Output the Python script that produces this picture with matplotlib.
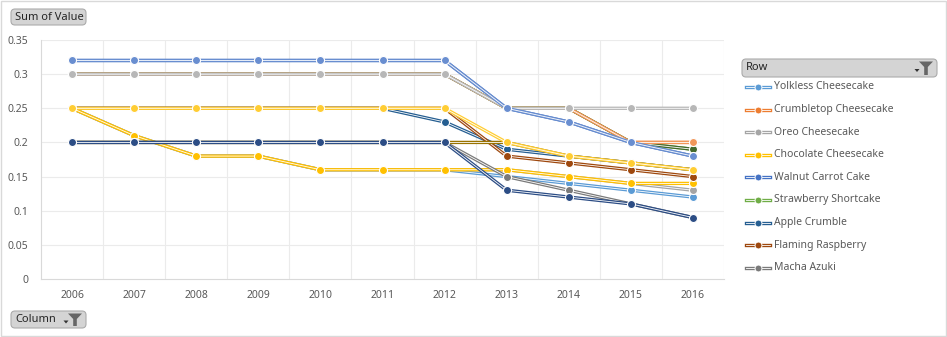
import matplotlib
matplotlib.use("Agg")
import matplotlib.pyplot as plt
from matplotlib.patches import FancyBboxPatch, Rectangle, Polygon
from matplotlib.lines import Line2D
from matplotlib.transforms import IdentityTransform

plt.rcParams['font.family'] = ['Noto Sans', 'DejaVu Sans']

W, H = 947, 337

# data
years = ['2006', '2007', '2008', '2009', '2010', '2011', '2012', '2013', '2014', '2015', '2016']

names = ['Yolkless Cheesecake', 'Crumbletop Cheesecake', 'Oreo Cheesecake',
         'Chocolate Cheesecake', 'Walnut Carrot Cake', 'Strawberry Shortcake',
         'Apple Crumble', 'Flaming Raspberry', 'Macha Azuki']

yolkless = [0.25, 0.21, 0.18, 0.18, 0.16, 0.16, 0.16, 0.15, 0.14, 0.13, 0.12]
crumbletop = [0.30, 0.30, 0.30, 0.30, 0.30, 0.30, 0.30, 0.25, 0.25, 0.20, 0.20]
oreo = [0.25, 0.21, 0.18, 0.18, 0.16, 0.16, 0.16, 0.16, 0.15, 0.14, 0.13]
chocolate = [0.25, 0.21, 0.18, 0.18, 0.16, 0.16, 0.16, 0.16, 0.15, 0.14, 0.14]
walnut = [0.32, 0.32, 0.32, 0.32, 0.32, 0.32, 0.32, 0.25, 0.23, 0.20, 0.18]
strawberry = [0.30, 0.30, 0.30, 0.30, 0.30, 0.30, 0.30, 0.25, 0.25, 0.20, 0.19]
apple = [0.25, 0.25, 0.25, 0.25, 0.25, 0.25, 0.23, 0.19, 0.18, 0.17, 0.16]
flaming = [0.25, 0.25, 0.25, 0.25, 0.25, 0.25, 0.25, 0.18, 0.17, 0.16, 0.15]
macha = [0.20, 0.20, 0.20, 0.20, 0.20, 0.20, 0.20, 0.15, 0.13, 0.11, 0.09]

# rows that do not fit in the legend
extra_a = [0.20, 0.20, 0.20, 0.20, 0.20, 0.20, 0.20, 0.20, 0.18, 0.17, 0.16]
extra_b = [0.20, 0.20, 0.20, 0.20, 0.20, 0.20, 0.20, 0.13, 0.12, 0.11, 0.09]
extra_c = [0.30, 0.30, 0.30, 0.30, 0.30, 0.30, 0.30, 0.25, 0.25, 0.20, 0.19]
extra_d = [0.30, 0.30, 0.30, 0.30, 0.30, 0.30, 0.30, 0.25, 0.25, 0.20, 0.20]
extra_e = [0.30, 0.30, 0.30, 0.30, 0.30, 0.30, 0.30, 0.25, 0.25, 0.25, 0.25]
extra_f = [0.25, 0.25, 0.25, 0.25, 0.25, 0.25, 0.25, 0.20, 0.18, 0.17, 0.16]
extra_g = [0.32, 0.32, 0.32, 0.32, 0.32, 0.32, 0.32, 0.25, 0.23, 0.20, 0.18]

series = [yolkless, crumbletop, oreo, chocolate, walnut, strawberry, apple, flaming, macha,
          extra_a, extra_b, extra_c, extra_d, extra_e, extra_f, extra_g]
colors = ['#5B9BD5', '#ED7D31', '#A5A5A5', '#FFC000', '#4472C4', '#70AD47', '#255E91',
          '#9E480E', '#7A7A7A', '#997300', '#2C4D85', '#43682B', '#F1975A', '#B7B7B7',
          '#FFCD33', '#698ED0']

fig = plt.figure(figsize=(W / 100, H / 100), dpi=100)
px = IdentityTransform()   # pixel coords, y from the bottom


def fx(p):
    return p / W


def fy(p):
    return 1 - p / H


# chart frame
fig.add_artist(Rectangle((0.5, 1.5), 945, 335, transform=px,
                         fill=False, edgecolor='#D9D9D9', lw=1))

ax = fig.add_axes([fx(41), fy(279), fx(724) - fx(41), (279 - 40) / H])
x = list(range(len(years)))

for i, (vals, c) in enumerate(zip(series, colors)):
    z = 3 + i * 3
    ax.plot(x, vals, color=c, lw=2.4, zorder=z, solid_joinstyle='round')
    ax.plot(x, vals, color='white', lw=0.6, zorder=z + 0.5)
    ax.plot(x, vals, 'o', ms=5.8, mfc=c, mec='white', mew=0.8, zorder=z + 1)

ax.set_xlim(-0.5, len(years) - 0.5)
ax.set_ylim(0, 0.35)
ax.set_xticks(x)
ax.set_xticklabels(years)
ax.set_yticks([0, 0.05, 0.1, 0.15, 0.2, 0.25, 0.3, 0.35])
ax.set_yticklabels(['0', '0.05', '0.1', '0.15', '0.2', '0.25', '0.3', '0.35'])
ax.tick_params(length=0, labelsize=7.5, colors='#595959')
ax.tick_params(axis='y', pad=9)
ax.tick_params(axis='x', pad=8)
for yv in [0.05, 0.1, 0.15, 0.2, 0.25, 0.3, 0.35]:
    ax.axhline(yv, color='#EBEBEB', lw=0.8, zorder=1)
for xv in range(len(years)):
    ax.axvline(xv + 0.5, color='#EBEBEB', lw=0.8, zorder=1)
for s in ['top', 'right']:
    ax.spines[s].set_visible(False)
ax.spines['left'].set_color('#D9D9D9')
ax.spines['bottom'].set_color('#D9D9D9')


def button(x0, y0, x1, y1, text, funnel=False):
    fig.add_artist(FancyBboxPatch((x0, H - y1), x1 - x0, y1 - y0,
                                  boxstyle='round,pad=0,rounding_size=4',
                                  transform=px, facecolor='#D4D4D4',
                                  edgecolor='#ABABAB', lw=0.8))
    fig.text(fx(x0 + 4), fy((y0 + y1) / 2), text, fontsize=8, color='#262626',
             va='center', ha='left')
    if funnel:
        cx = x1 - 11
        pts = [(cx - 7, y0 + 2.5), (cx + 7, y0 + 2.5), (cx + 1.8, y0 + 8),
               (cx + 1.8, y1 - 2), (cx - 1.8, y1 - 2), (cx - 1.8, y0 + 8)]
        fig.add_artist(Polygon([(a, H - b) for a, b in pts], closed=True,
                               transform=px, facecolor='#666666', edgecolor='none'))
        tx = cx - 9
        ty = (y0 + y1) / 2 + 2
        tri = [(tx - 2.5, ty - 1), (tx + 2.5, ty - 1), (tx, ty + 2)]
        fig.add_artist(Polygon([(a, H - b) for a, b in tri], closed=True,
                               transform=px, facecolor='#333333', edgecolor='none'))


button(11, 9, 86, 25, 'Sum of Value')
button(11, 311, 86, 328, 'Column', funnel=True)
button(742, 59, 937, 77, 'Row', funnel=True)

# legend
for i, name in enumerate(names):
    yy = 87 + 22.6 * i
    c = colors[i]
    fig.add_artist(Line2D([fx(746), fx(770)], [fy(yy), fy(yy)], transform=fig.transFigure,
                          color=c, lw=2.4))
    fig.add_artist(Line2D([fx(746), fx(770)], [fy(yy), fy(yy)], transform=fig.transFigure,
                          color='white', lw=0.6))
    fig.add_artist(Line2D([fx(758)], [fy(yy)], transform=fig.transFigure, marker='o',
                          ms=5, mfc=c, mec='white', mew=0.7))
    fig.text(fx(774), fy(yy), name, fontsize=7.5, color='#595959', va='center', ha='left')

fig.savefig('out.png', dpi=100)
